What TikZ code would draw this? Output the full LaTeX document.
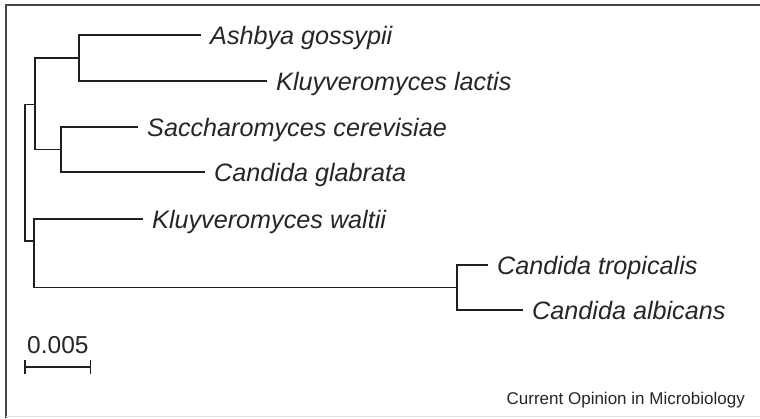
\documentclass[tikz,border=0pt]{standalone}
\usepackage{fontspec}
\setmainfont{Liberation Sans}
\begin{document}
\begin{tikzpicture}[x=1pt,y=-1pt,
  branch/.style={draw=black!88, line width=1.8pt},
  taxon/.style={anchor=base west, inner sep=0pt, text=black!85, font=\fontsize{25.2}{30}\selectfont\itshape},
  plain/.style={anchor=base west, inner sep=0pt, text=black!85, font=\fontsize{24.5}{30}\selectfont},
  credit/.style={anchor=base east, inner sep=0pt, text=black!85, font=\fontsize{17}{20}\selectfont}]
\useasboundingbox (0,0) rectangle (760,418);
\fill[white] (0,0) rectangle (760,418);
% frame
\draw[black!72, line width=2.5pt] (6,418) -- (6,5) -- (762,5);
\draw[black!12, line width=1pt] (6,416.5) -- (762,416.5);
% internal nodes
\coordinate (r)  at (25,172);
\coordinate (n3) at (35,104.5);
\coordinate (n1) at (79,58);
\coordinate (n2) at (61,149.5);
\coordinate (n4) at (34,241);
\coordinate (n5) at (457,287.5);
% tips
\coordinate (eA) at (201,35);
\coordinate (eL) at (267,81);
\coordinate (eS) at (138,127);
\coordinate (eG) at (205,172);
\coordinate (eW) at (143,219);
\coordinate (eT) at (488,265);
\coordinate (eC) at (523,310);
% branches
\draw[branch] (r) |- (n3);
\draw[branch] (r) |- (n4);
\draw[branch] (n3) |- (n1);
\draw[branch] (n3) |- (n2);
\draw[branch] (n1) |- (eA);
\draw[branch] (n1) |- (eL);
\draw[branch] (n2) |- (eS);
\draw[branch] (n2) |- (eG);
\draw[branch] (n4) |- (eW);
\draw[branch] (n4) |- (n5);
\draw[branch] (n5) |- (eT);
\draw[branch] (n5) |- (eC);
% labels
\node[taxon] (tA) at ([shift={(9,9)}]eA) {Ashbya gossypii};
\node[taxon] (tL) at ([shift={(9,9)}]eL) {Kluyveromyces lactis};
\node[taxon] (tS) at ([shift={(9,9)}]eS) {Saccharomyces cerevisiae};
\node[taxon] (tG) at ([shift={(9,9)}]eG) {Candida glabrata};
\node[taxon] (tW) at ([shift={(9,9)}]eW) {Kluyveromyces waltii};
\node[taxon] (tT) at ([shift={(9,9)}]eT) {Candida tropicalis};
\node[taxon] (tC) at ([shift={(9,9)}]eC) {Candida albicans};
% scale bar
\coordinate (sbL) at (25,367);
\coordinate (sbR) at (90.5,367);
\draw[branch] (sbL) -- (sbR);
\draw[branch] ([yshift=-7]sbL) -- ([yshift=7]sbL);
\draw[branch] ([yshift=-7]sbR) -- ([yshift=7]sbR);
\node[plain] (sc) at (27,353) {0.005};
% credit
\node[credit] (cr) at (745,404) {Current Opinion in Microbiology};
\end{tikzpicture}
\end{document}
